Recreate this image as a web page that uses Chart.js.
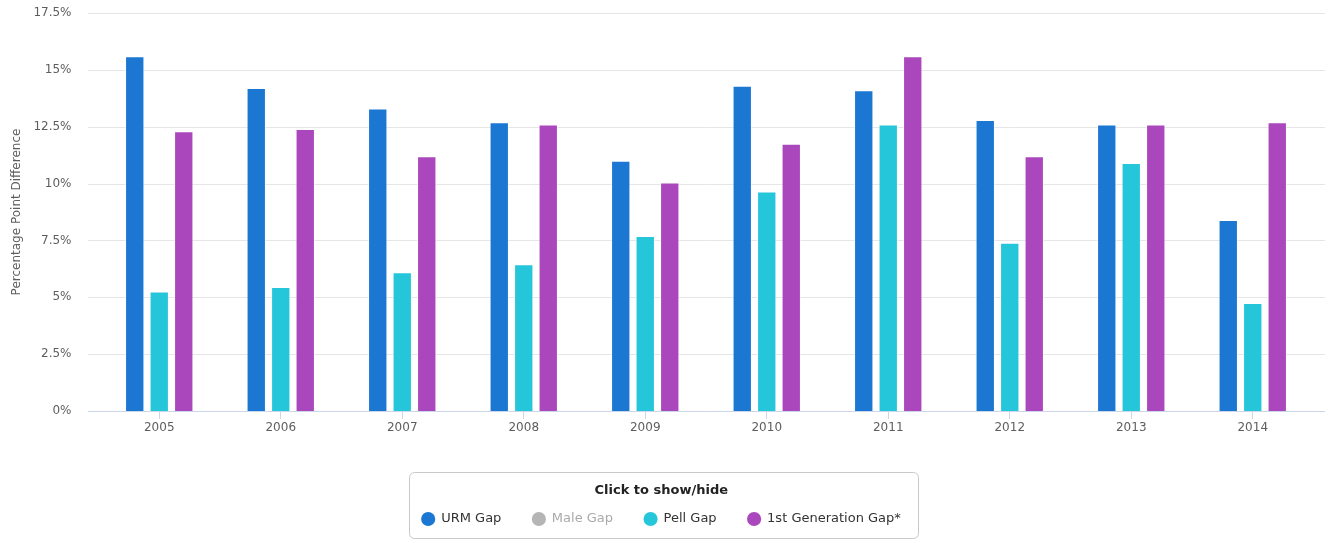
<!DOCTYPE html>
<html>
<head>
<meta charset="utf-8">
<script src="https://cdn.jsdelivr.net/npm/chart.js@4"></script>
<style>
  html, body { margin: 0; padding: 0; background: #fff; }
  #wrap { width: 1326px; height: 539px; }
</style>
</head>
<body>
<div id="wrap"><canvas id="gapChart"></canvas></div>
<script>
// años y brechas (puntos porcentuales)
const years = ['2005', '2006', '2007', '2008', '2009', '2010', '2011', '2012', '2013', '2014'];
const urmGap = [15.6, 14.2, 13.3, 12.7, 11.0, 14.3, 14.1, 12.8, 12.6, 8.4];
const maleGap = []; // serie oculta en la imagen
const pellGap = [5.25, 5.45, 6.1, 6.45, 7.7, 9.65, 12.6, 7.4, 10.9, 4.75];
const firstGenGap = [12.3, 12.4, 11.2, 12.6, 10.05, 11.75, 15.6, 11.2, 12.6, 12.7];

const FONT = '"DejaVu Sans", Verdana, sans-serif';

// líneas de cuadrícula un poco más anchas que el área (estilo Highcharts)
const gridPlugin = {
    id: 'wideGrid',
    beforeDatasetsDraw(chart) {
        const { ctx, chartArea, scales } = chart;
        const y = scales.y;
        const left = chartArea.left - 10.5;
        const right = chartArea.right + 11.5;
        ctx.save();
        ctx.lineWidth = 1;
        y.ticks.forEach(t => {
            const py = Math.round(y.getPixelForValue(t.value)) + 0.5;
            ctx.strokeStyle = t.value === 0 ? '#ccd6eb' : '#e6e6e6';
            ctx.beginPath();
            ctx.moveTo(left, py);
            ctx.lineTo(right, py);
            ctx.stroke();
        });
        ctx.restore();
    }
};

// marco redondeado alrededor de la leyenda
const legendBoxPlugin = {
    id: 'legendBox',
    afterDraw(chart) {
        const lg = chart.legend;
        if (!lg || !lg.legendHitBoxes.length) return;
        const boxes = lg.legendHitBoxes;
        const left = Math.min(...boxes.map(b => b.left)) - 13;
        const right = Math.max(...boxes.map(b => b.left + b.width)) + 17;
        const top = Math.round(lg.top) + 0.5;
        const bottom = Math.round(lg.bottom) + 2.5;
        const { ctx } = chart;
        ctx.save();
        ctx.strokeStyle = '#c8c8c8';
        ctx.lineWidth = 1;
        ctx.beginPath();
        ctx.roundRect(Math.round(left) + 0.5, top, Math.round(right - left), bottom - top, 5);
        ctx.stroke();
        ctx.restore();
    }
};

const ctx = document.getElementById('gapChart').getContext('2d');
const gapChart = new Chart(ctx, {
    type: 'bar',
    data: {
        labels: years,
        datasets: [
            { label: 'URM Gap', data: urmGap, backgroundColor: '#1b77d2' },
            { label: 'Male Gap', data: maleGap, backgroundColor: '#b5b5b5', hidden: true },
            { label: 'Pell Gap', data: pellGap, backgroundColor: '#26c6da' },
            { label: '1st Generation Gap*', data: firstGenGap, backgroundColor: '#ab47bc' }
        ]
    },
    options: {
        responsive: true,
        maintainAspectRatio: false,
        animation: false,
        datasets: {
            bar: {
                categoryPercentage: 0.605,
                barPercentage: 0.79,
                borderWidth: 1,
                borderColor: 'rgba(255,255,255,0.45)'
            }
        },
        layout: { padding: { top: 13, right: 12.5, bottom: 3.5, left: 9 } },
        scales: {
            x: {
                grid: { display: true, drawOnChartArea: false, offset: false, tickLength: 8, color: '#ccd6eb' },
                border: { display: false },
                ticks: { color: '#5e5e5e', padding: 2, font: { family: FONT, size: 12 } },
                afterFit(scale) { scale.height = 60.5; }
            },
            y: {
                min: 0,
                max: 17.5,
                grid: { display: false, drawTicks: false },
                border: { display: false },
                ticks: {
                    stepSize: 2.5,
                    padding: 27,
                    color: '#5e5e5e',
                    font: { family: FONT, size: 12 },
                    callback: v => v + '%'
                },
                title: {
                    display: true,
                    text: 'Percentage Point Difference',
                    color: '#5e5e5e',
                    font: { family: FONT, size: 12 },
                    padding: { top: 1, bottom: 4 }
                },
                afterFit(scale) {
                    scale.width = 89.5;
                    scale.paddingTop = 0;
                    scale.paddingBottom = 0;
                }
            }
        },
        plugins: {
            tooltip: { enabled: false },
            legend: {
                position: 'bottom',
                title: {
                    display: true,
                    text: 'Click to show/hide',
                    color: '#222222',
                    font: { family: FONT, size: 13, weight: 'bold' },
                    padding: { top: 13, bottom: -18.6 }
                },
                labels: {
                    usePointStyle: true,
                    pointStyle: 'circle',
                    boxHeight: 10,
                    padding: 31,
                    font: { family: FONT, size: 13 },
                    generateLabels(chart) {
                        return chart.data.datasets.map((ds, i) => {
                            const off = !chart.isDatasetVisible(i);
                            const c = off ? '#b5b5b5' : ds.backgroundColor;
                            return {
                                text: ds.label,
                                fillStyle: c,
                                strokeStyle: c,
                                lineWidth: 0,
                                fontColor: off ? '#aaaaaa' : '#333333',
                                hidden: false,
                                datasetIndex: i,
                                pointStyle: 'circle'
                            };
                        });
                    }
                }
            }
        }
    },
    plugins: [gridPlugin, legendBoxPlugin]
});
</script>
</body>
</html>
